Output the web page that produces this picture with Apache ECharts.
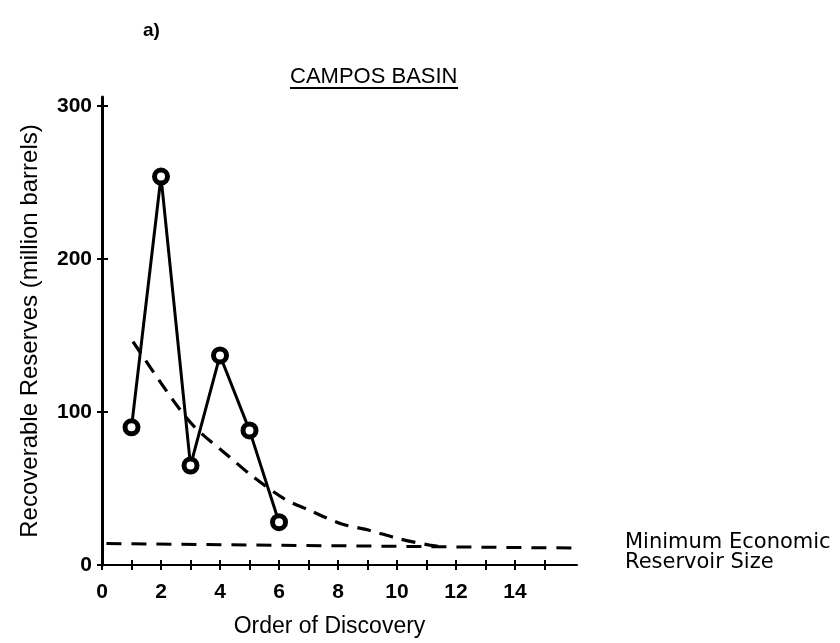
<!DOCTYPE html>
<html>
<head>
<meta charset="utf-8">
<script src="https://cdn.jsdelivr.net/npm/echarts@6/dist/echarts.min.js"></script>
<style>
html,body{margin:0;padding:0;background:#fff;}
#chart{width:840px;height:643px;}
</style>
</head>
<body>
<div id="chart"></div>
<script>
// Data
const discoveryOrder = [1, 2, 3, 4, 5, 6];
const reserves = [90, 254, 65, 137, 88, 28];
const trendX = [1.05, 2.4, 3.15, 4.3, 5.1, 6.2, 7.0, 8.1, 9.0, 10.1, 11.1, 11.5];
const trendY = [146, 108, 90, 71, 58, 43, 36, 27, 23, 17, 13, 12];
const minEconX = [0.15, 16.5];
const minEconY = [14, 11];
const xTicks = [0,1,2,3,4,5,6,7,8,9,10,11,12,13,14,15];
const xLabels = [0,2,4,6,8,10,12,14];
const yTicks = [0,100,200,300];

const SANS = 'Liberation Sans';
const WIDE = 'DejaVu Sans';
const chart = echarts.init(document.getElementById('chart'), null, {renderer:'canvas'});

const pts = discoveryOrder.map((x,i)=>[x, reserves[i]]);
const trend = trendX.map((x,i)=>[x, trendY[i]]);
const minEcon = minEconX.map((x,i)=>[x, minEconY[i]]);

const axisCommonX = { type:'value', min:0, max:16.1, gridIndex:0, position:'bottom' };
const axisCommonY = { type:'value', min:0, max:306, gridIndex:0, position:'left' };

chart.setOption({
  backgroundColor:'#fff',
  animation:false,
  title:[
    {text:'a)', left:138, top:16, textStyle:{fontFamily:SANS, fontSize:19, fontWeight:'bold', color:'#000'}},
    {text:'CAMPOS BASIN', left:285, top:61, textStyle:{fontFamily:SANS, fontSize:22, fontWeight:'normal', color:'#000'}}
  ],
  graphic:[
    {type:'line', shape:{x1:290, y1:88, x2:458, y2:88}, style:{stroke:'#000', lineWidth:2}},
    {type:'text', left:625, top:532, style:{text:'Minimum Economic\nReservoir Size', fontFamily:WIDE, fontSize:21, lineHeight:20, fill:'#000'}}
  ],
  grid:{left:102, right:263, top:97, bottom:74, containLabel:false},
  xAxis:[
    Object.assign({}, axisCommonX, {
      name:'Order of Discovery', nameLocation:'middle', nameGap:50,
      nameTextStyle:{fontFamily:SANS, fontSize:23, color:'#000', padding:[0,20,0,0]},
      axisLine:{show:true, lineStyle:{color:'#000', width:2}},
      axisTick:{show:true, inside:false, length:5, lineStyle:{color:'#000', width:2}, customValues:xTicks},
      axisLabel:{fontFamily:SANS, fontSize:21, fontWeight:'bold', color:'#000', margin:17, customValues:xLabels},
      splitLine:{show:false}
    }),
    Object.assign({}, axisCommonX, {
      axisLine:{show:false},
      axisTick:{show:true, inside:true, length:5, lineStyle:{color:'#000', width:2}, customValues:xTicks},
      axisLabel:{show:false},
      splitLine:{show:false}
    })
  ],
  yAxis:[
    Object.assign({}, axisCommonY, {
      name:'Recoverable Reserves (million barrels)', nameLocation:'middle', nameGap:60,
      nameTextStyle:{fontFamily:SANS, fontSize:24, color:'#000'},
      axisLine:{show:true, lineStyle:{color:'#000', width:3}},
      axisTick:{show:true, inside:false, length:5, lineStyle:{color:'#000', width:2}, customValues:yTicks},
      axisLabel:{fontFamily:SANS, fontSize:21, fontWeight:'bold', color:'#000', margin:10, customValues:yTicks},
      splitLine:{show:false}
    }),
    Object.assign({}, axisCommonY, {
      axisLine:{show:false},
      axisTick:{show:true, inside:true, length:6, lineStyle:{color:'#000', width:2}, customValues:yTicks},
      axisLabel:{show:false},
      splitLine:{show:false}
    })
  ],
  series:[
    {
      type:'line', name:'Minimum Economic Reservoir Size', data:minEcon, xAxisIndex:0, yAxisIndex:0,
      symbol:'none', clip:false,
      lineStyle:{color:'#000', width:3, type:[15,10]}
    },
    {
      type:'line', name:'Trend', data:trend, xAxisIndex:0, yAxisIndex:0,
      symbol:'none', smooth:0.3,
      lineStyle:{color:'#000', width:3.2, type:[14,9]}
    },
    {
      type:'line', name:'Reserves', data:pts, xAxisIndex:0, yAxisIndex:0,
      symbol:'circle', symbolSize:13,
      lineStyle:{color:'#000', width:3},
      itemStyle:{color:'#fff', borderColor:'#000', borderWidth:5}
    }
  ]
});
</script>
</body>
</html>
